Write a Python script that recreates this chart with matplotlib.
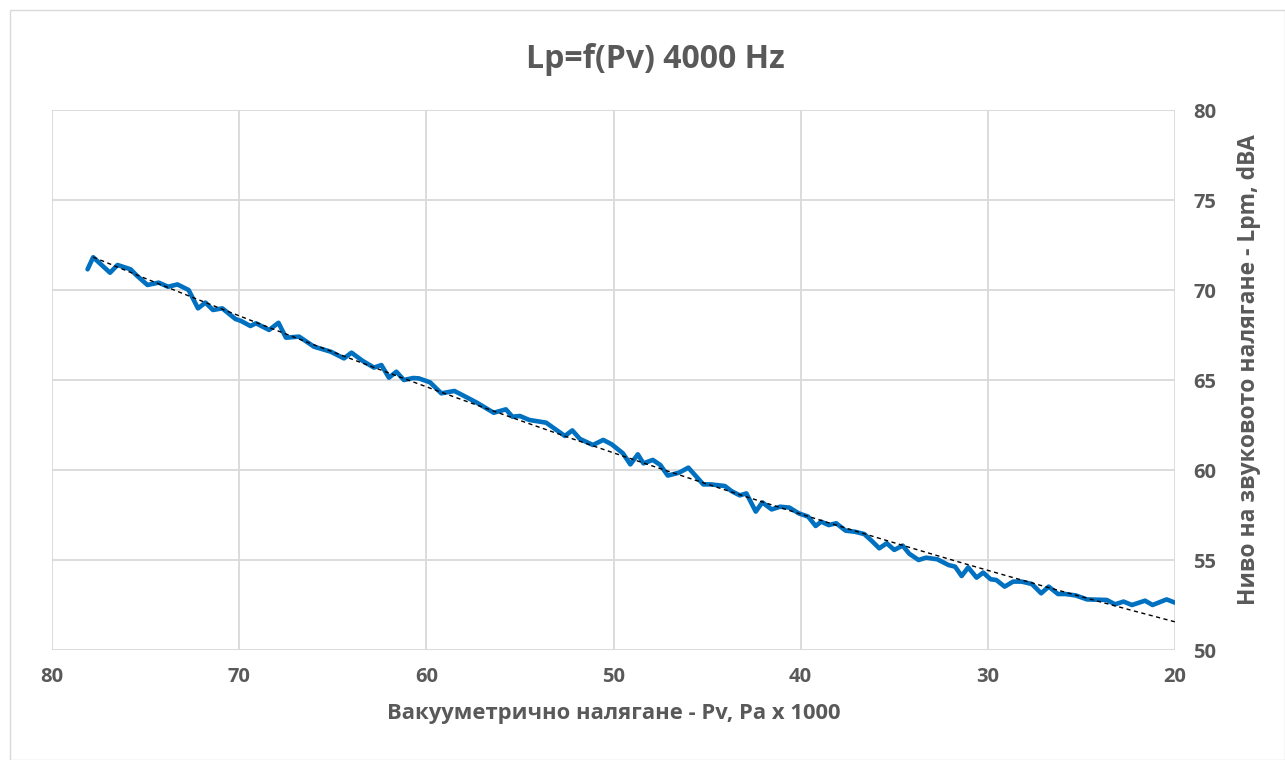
import numpy as np
import matplotlib
matplotlib.use("Agg")
import matplotlib.pyplot as plt
from matplotlib.patches import Rectangle

# ---- data ----
pv = [78.1, 77.8, 76.9, 76.5, 75.8, 75.5, 74.9, 74.3, 73.8, 73.3,
      72.7, 72.2, 71.8, 71.4, 70.9, 70.2, 69.9, 69.4, 69.1, 68.4,
      67.9, 67.5, 66.8, 66.0, 65.1, 64.4, 64.0, 63.4, 62.8, 62.4,
      62.0, 61.6, 61.2, 60.7, 60.4, 59.8, 59.2, 58.5, 57.9, 57.3,
      56.4, 55.75, 55.4, 55.0, 54.5, 53.6, 52.6, 52.2, 51.8, 51.1,
      50.55, 50.1, 49.5, 49.1, 48.7, 48.4, 47.9, 47.5, 47.1, 46.5,
      46.0, 45.65, 45.2, 44.8, 44.05, 43.7, 43.25, 42.9, 42.4, 42.05,
      41.55, 41.1, 40.6, 40.1, 39.6, 39.2, 38.9, 38.5, 38.1, 37.6,
      37.1, 36.6, 36.2, 35.8, 35.4, 35.0, 34.55, 34.2, 33.7, 33.3,
      32.7, 32.1, 31.75, 31.4, 31.05, 30.6, 30.25, 29.85, 29.55, 29.1,
      28.65, 28.2, 27.65, 27.15, 26.75, 26.25, 25.85, 25.3, 24.7, 23.65,
      23.2, 22.75, 22.3, 21.6, 21.2, 20.45, 20.0]
lp = [71.15, 71.82, 70.96, 71.39, 71.15, 70.83, 70.28, 70.41, 70.18, 70.31,
      70.0, 68.98, 69.30, 68.89, 68.98, 68.39, 68.28, 68.0, 68.15, 67.78,
      68.18, 67.35, 67.41, 66.85, 66.57, 66.20, 66.52, 66.06, 65.69, 65.83,
      65.13, 65.46, 65.0, 65.11, 65.09, 64.87, 64.26, 64.39, 64.07, 63.74,
      63.18, 63.37, 62.96, 63.0, 62.78, 62.63, 61.89, 62.2, 61.73, 61.39,
      61.67, 61.43, 60.93, 60.31, 60.87, 60.37, 60.56, 60.28, 59.69, 59.85,
      60.13, 59.72, 59.20, 59.20, 59.11, 58.83, 58.59, 58.70, 57.69, 58.20,
      57.81, 57.96, 57.91, 57.59, 57.41, 56.89, 57.13, 56.94, 57.04, 56.63,
      56.57, 56.44, 56.06, 55.65, 55.93, 55.56, 55.80, 55.35, 55.0, 55.13,
      55.04, 54.72, 54.63, 54.11, 54.59, 54.02, 54.30, 53.93, 53.89, 53.52,
      53.80, 53.80, 53.67, 53.15, 53.52, 53.11, 53.11, 53.03, 52.81, 52.78,
      52.54, 52.69, 52.5, 52.74, 52.5, 52.81, 52.63]
assert len(pv) == len(lp)

x_ticks = [80, 70, 60, 50, 40, 30, 20]
y_ticks = [50, 55, 60, 65, 70, 75, 80]

title = "Lp=f(Pv) 4000 Hz"
xlabel = "Вакууметрично налягане - Pv, Pa x 1000"
ylabel = "Ниво на звуковото налягане - Lpm, dBA"

# ---- style ----
plt.rcParams['font.family'] = ['Open Sans', 'DejaVu Sans']
gray = "#595959"
blue = "#0070C0"

W, H = 1285, 760
fig = plt.figure(figsize=(W / 100, H / 100), dpi=100)
fig.patches.append(Rectangle((10 / W, 0), 1 - 10 / W, 1 - 10 / H,
                             transform=fig.transFigure, fill=False,
                             edgecolor="#d9d9d9", linewidth=1.0))

ax = fig.add_axes([52 / W, 1 - 650 / H, (1175 - 52) / W, (650 - 110) / H])

ax.plot(pv, lp, color=blue, lw=3.3, solid_joinstyle="round",
        solid_capstyle="round", zorder=3)

# polynomial (order 2) trend line like in the spreadsheet
coef = np.polyfit(pv, lp, 2)
xt = np.linspace(77.8, min(pv), 200)
ax.plot(xt, np.polyval(coef, xt), color="black", lw=1.0,
        dashes=(3, 2.5), zorder=4)

ax.set_xlim(80, 20)
ax.set_ylim(50, 80)
ax.set_xticks(x_ticks)
ax.set_yticks(y_ticks)
ax.yaxis.tick_right()
ax.yaxis.set_label_position("right")
ax.grid(True, color="#d9d9d9", lw=1.3)
ax.set_axisbelow(True)
for s in ax.spines.values():
    s.set_visible(False)
ax.tick_params(axis="x", length=0, labelsize=14.5, labelcolor=gray, pad=12)
ax.tick_params(axis="y", length=0, labelsize=14.5, labelcolor=gray, pad=13)
for lab in ax.get_xticklabels() + ax.get_yticklabels():
    lab.set_fontweight("bold")

ax.set_xlabel(xlabel, fontsize=15.8, fontweight="bold", color=gray, labelpad=12)
ax.set_ylabel(ylabel, fontsize=16.5, fontweight="bold", color=gray, labelpad=15)
ax.yaxis.label.set_y(0.52)

fig.text(655 / W, 1 - 60 / H, title, ha="center", va="center",
         fontsize=23, fontweight="bold", color=gray)

fig.savefig("out.png", dpi=100)
